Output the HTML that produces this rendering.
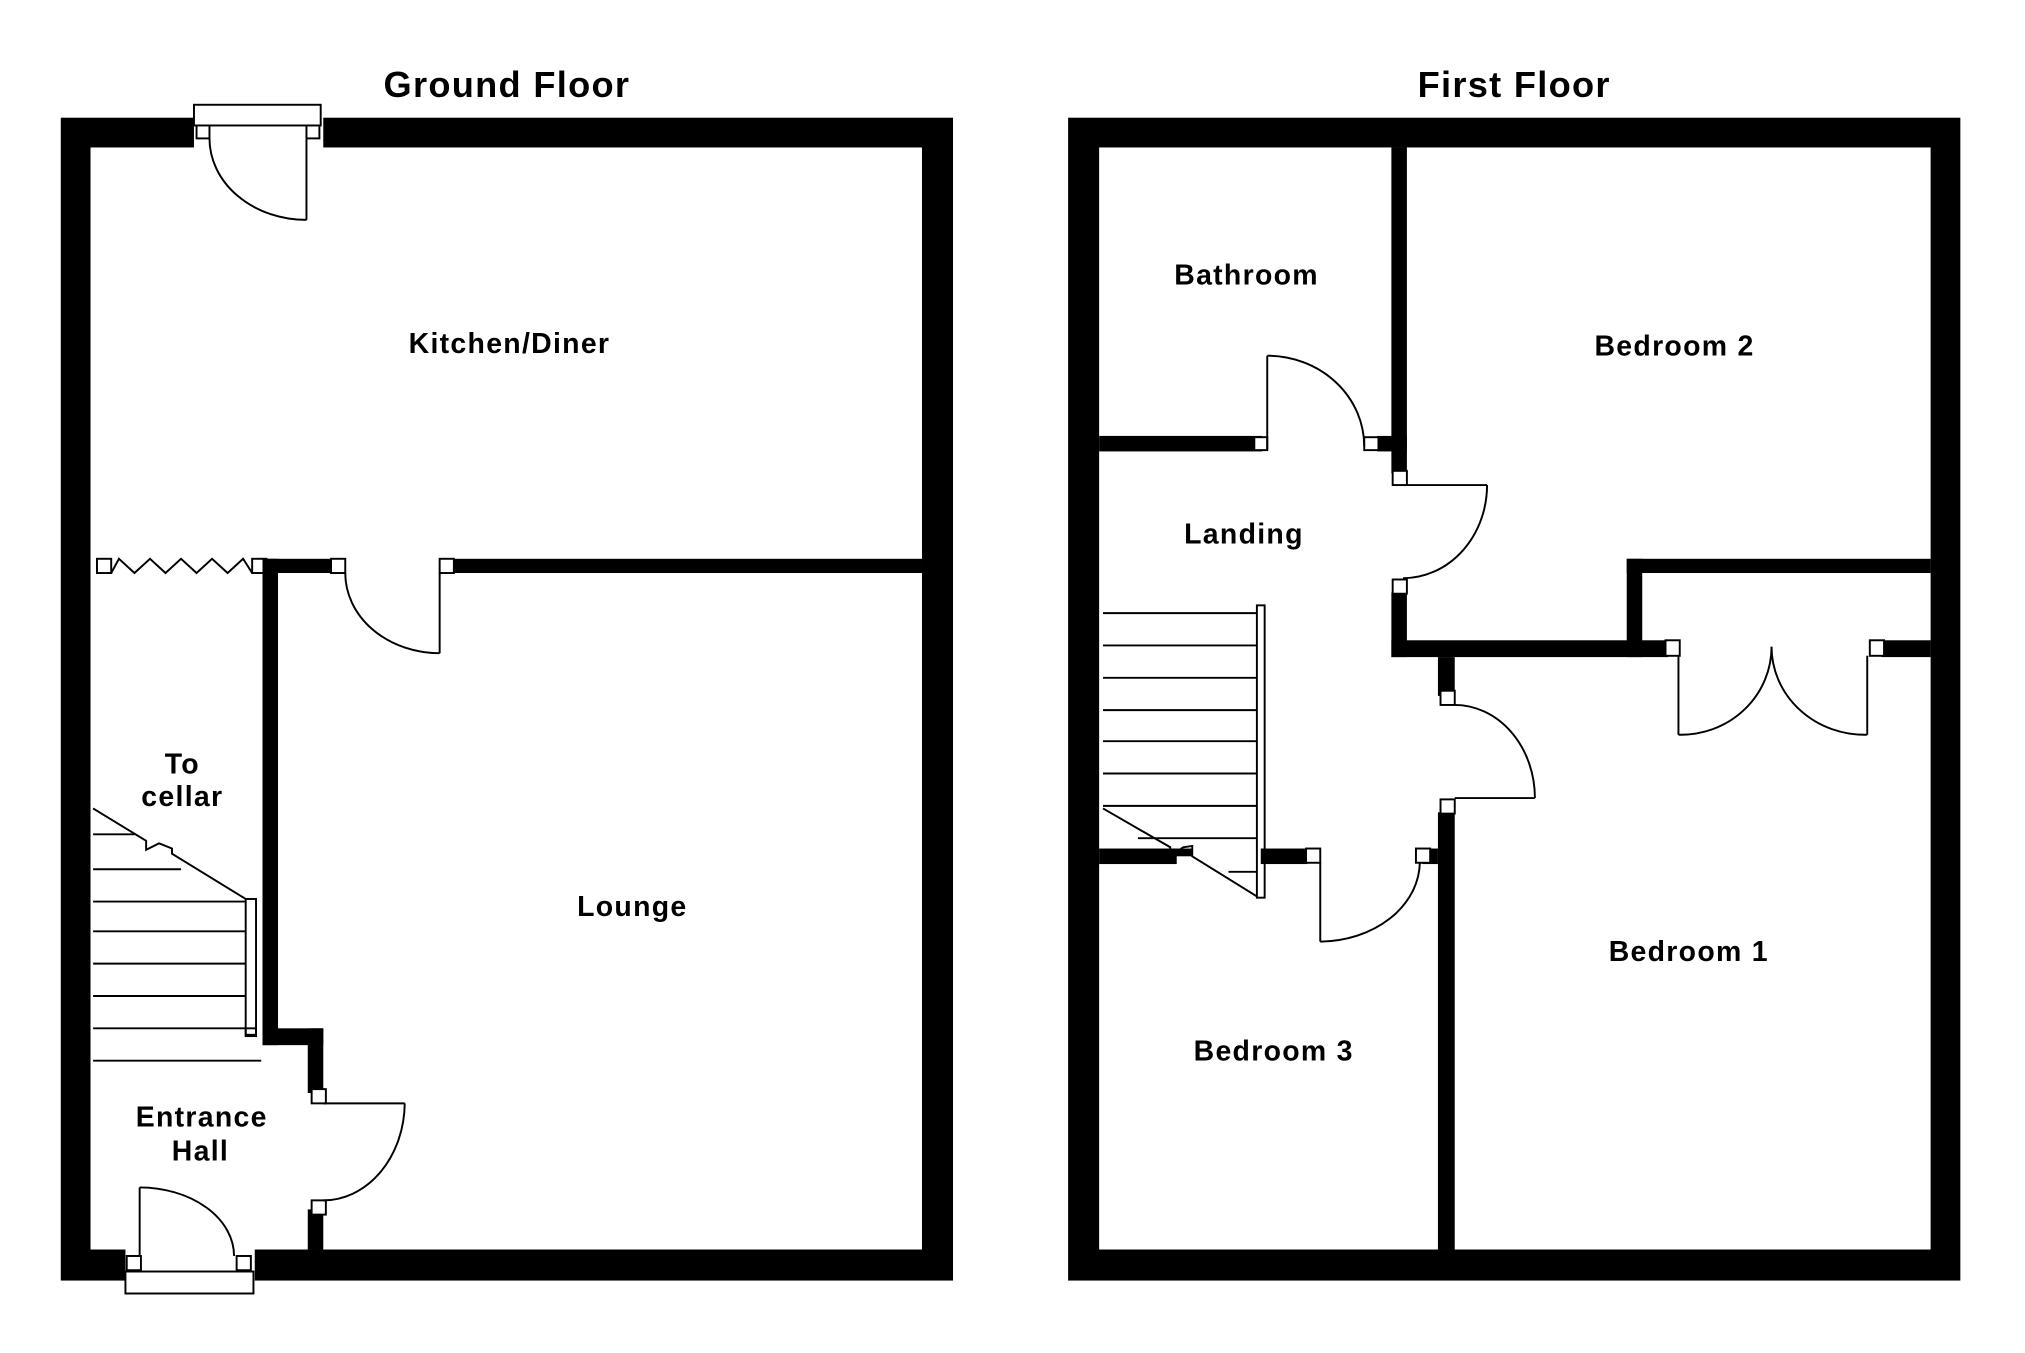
<!DOCTYPE html>
<html><head><meta charset="utf-8"><style>
html,body{margin:0;padding:0;background:#fff;}
svg{display:block;}
text{font-family:"Liberation Sans",sans-serif;font-weight:bold;fill:#000;}
</style></head><body>
<svg width="2025" height="1353" viewBox="0 0 1566 1046" preserveAspectRatio="none" xmlns="http://www.w3.org/2000/svg">
<rect width="1566" height="1046" fill="#fff"/>
<!-- GROUND FLOOR -->
<rect x="47" y="91" width="690" height="899" fill="#000"/>
<rect x="70" y="114" width="643" height="852" fill="#fff"/>
<rect x="150" y="89" width="100" height="26" fill="#fff"/>
<rect x="150" y="81" width="98" height="16" fill="#fff" stroke="#000" stroke-width="1.5"/>
<rect x="152" y="97" width="10" height="10" fill="#fff" stroke="#000" stroke-width="1.5"/>
<rect x="237" y="97" width="10" height="10" fill="#fff" stroke="#000" stroke-width="1.5"/>
<g fill="none" stroke="#000" stroke-width="1.5">
<line x1="237" y1="107" x2="237" y2="170"/>
<path d="M162 107 A75 63 0 0 0 237 170"/>
</g>
<rect x="203" y="432" width="60" height="11" fill="#000"/>
<rect x="345" y="432" width="368" height="11" fill="#000"/>
<g fill="#fff" stroke="#000" stroke-width="1.5">
<rect x="75" y="432" width="11" height="11"/>
<rect x="195" y="432" width="11" height="11"/>
<rect x="256" y="432" width="11" height="11"/>
<rect x="340" y="432" width="11" height="11"/>
</g>
<g fill="none" stroke="#000" stroke-width="1.5">
<polyline points="86,443 92,432 104,443 116,432 128,443 140,432 152,443 164,432 176,443 188,432 195,443"/>
<line x1="340" y1="443" x2="340" y2="505"/>
<path d="M267 443 A73 62 0 0 0 340 505"/>
</g>
<rect x="203" y="432" width="12" height="376" fill="#000"/>
<rect x="203" y="795" width="47" height="13" fill="#000"/>
<rect x="238" y="795" width="12" height="50" fill="#000"/>
<rect x="238" y="935" width="12" height="31" fill="#000"/>
<g fill="#fff" stroke="#000" stroke-width="1.5">
<rect x="241" y="842" width="11" height="11"/>
<rect x="241" y="928" width="11" height="11"/>
</g>
<g fill="none" stroke="#000" stroke-width="1.5">
<line x1="250" y1="853" x2="313" y2="853"/>
<path d="M313 853 A63 76 0 0 1 250 928"/>
</g>
<rect x="97" y="964" width="100" height="28" fill="#fff"/>
<rect x="97" y="983" width="99" height="17" fill="#fff" stroke="#000" stroke-width="1.5"/>
<rect x="98" y="971" width="11" height="11" fill="#fff" stroke="#000" stroke-width="1.5"/>
<rect x="183" y="971" width="11" height="11" fill="#fff" stroke="#000" stroke-width="1.5"/>
<g fill="none" stroke="#000" stroke-width="1.5">
<line x1="108" y1="971" x2="108" y2="918"/>
<path d="M108 918 A73 53 0 0 1 181 971"/>
</g>
<g fill="none" stroke="#000" stroke-width="1.5">
<line x1="72" y1="645" x2="104" y2="645"/>
<line x1="72" y1="672" x2="140" y2="672"/>
<line x1="72" y1="697" x2="190" y2="697"/>
<line x1="72" y1="720" x2="190" y2="720"/>
<line x1="72" y1="745" x2="190" y2="745"/>
<line x1="72" y1="770" x2="190" y2="770"/>
<line x1="72" y1="795" x2="190" y2="795"/>
<line x1="72" y1="820" x2="202" y2="820"/>
<polyline points="72,625 113,650 113,657 123,652 133,656 133,660 190,695"/>
<rect x="190" y="695" width="8" height="105"/>
<rect x="190" y="795" width="8" height="6"/>
</g>
<!-- FIRST FLOOR -->
<rect x="826" y="91" width="690" height="899" fill="#000"/>
<rect x="850" y="114" width="643" height="852" fill="#fff"/>
<rect x="1076" y="114" width="12" height="252" fill="#000"/>
<rect x="850" y="337" width="126" height="12" fill="#000"/>
<rect x="1065" y="337" width="23" height="12" fill="#000"/>
<rect x="1076" y="458" width="12" height="50" fill="#000"/>
<rect x="1076" y="495" width="214" height="13" fill="#000"/>
<rect x="1258" y="432" width="12" height="76" fill="#000"/>
<rect x="1258" y="432" width="235" height="11" fill="#000"/>
<rect x="1455" y="495" width="38" height="13" fill="#000"/>
<rect x="1112" y="508" width="13" height="30" fill="#000"/>
<rect x="1112" y="628" width="13" height="338" fill="#000"/>
<rect x="850" y="656" width="60" height="12" fill="#000"/>
<rect x="975" y="656" width="36" height="12" fill="#000"/>
<rect x="1100" y="656" width="12" height="12" fill="#000"/>
<g fill="#fff" stroke="#000" stroke-width="1.5">
<rect x="970" y="338" width="10" height="10"/>
<rect x="1055" y="338" width="11" height="10"/>
<rect x="1077" y="364" width="11" height="11"/>
<rect x="1077" y="448" width="11" height="11"/>
<rect x="1288" y="495" width="11" height="12"/>
<rect x="1446" y="495" width="11" height="12"/>
<rect x="1114" y="534" width="11" height="11"/>
<rect x="1114" y="618" width="11" height="11"/>
<rect x="1010" y="656" width="11" height="11"/>
<rect x="1095" y="656" width="11" height="11"/>
</g>
<g fill="none" stroke="#000" stroke-width="1.5">
<line x1="980" y1="348" x2="980" y2="275"/>
<path d="M980 275 A75 70 0 0 1 1055 345"/>
<line x1="1088" y1="375" x2="1150" y2="375"/>
<path d="M1150 375 A65 72 0 0 1 1085 447"/>
<line x1="1298" y1="507" x2="1298" y2="568"/>
<path d="M1298 568 A70 68 0 0 0 1370 500"/>
<line x1="1444" y1="507" x2="1444" y2="568"/>
<path d="M1444 568 A72 68 0 0 1 1370 500"/>
<line x1="1125" y1="617" x2="1187" y2="617"/>
<path d="M1125 545 A62 72 0 0 1 1187 617"/>
<line x1="1021" y1="667" x2="1021" y2="728"/>
<path d="M1021 728 A78 62 0 0 0 1098 667"/>
<line x1="853" y1="474" x2="972" y2="474"/>
<line x1="853" y1="499" x2="972" y2="499"/>
<line x1="853" y1="524" x2="972" y2="524"/>
<line x1="853" y1="549" x2="972" y2="549"/>
<line x1="853" y1="573" x2="972" y2="573"/>
<line x1="853" y1="598" x2="972" y2="598"/>
<line x1="853" y1="623" x2="972" y2="623"/>
<line x1="880" y1="648" x2="972" y2="648"/>
<line x1="950" y1="674" x2="972" y2="674"/>
<polyline points="853,625 905,655 905,662 915,655 922,654 922,662 972,693"/>
<rect x="972" y="468" width="6" height="226"/>
</g>
<rect x="905" y="656" width="17" height="6" fill="#000"/>
<text x="392" y="75" font-size="28" text-anchor="middle" letter-spacing="1">Ground Floor</text>
<text x="1171" y="75" font-size="28" text-anchor="middle" letter-spacing="1">First Floor</text>
<g font-size="22" text-anchor="middle" letter-spacing="1">
<text x="394" y="273">Kitchen/Diner</text>
<text x="141" y="598">To</text>
<text x="141" y="623">cellar</text>
<text x="489" y="708">Lounge</text>
<text x="156" y="871">Entrance</text>
<text x="155" y="897">Hall</text>
<text x="964" y="220">Bathroom</text>
<text x="1295" y="275">Bedroom 2</text>
<text x="962" y="420">Landing</text>
<text x="1306" y="743">Bedroom 1</text>
<text x="985" y="820">Bedroom 3</text>
</g>
</svg>
</body></html>
